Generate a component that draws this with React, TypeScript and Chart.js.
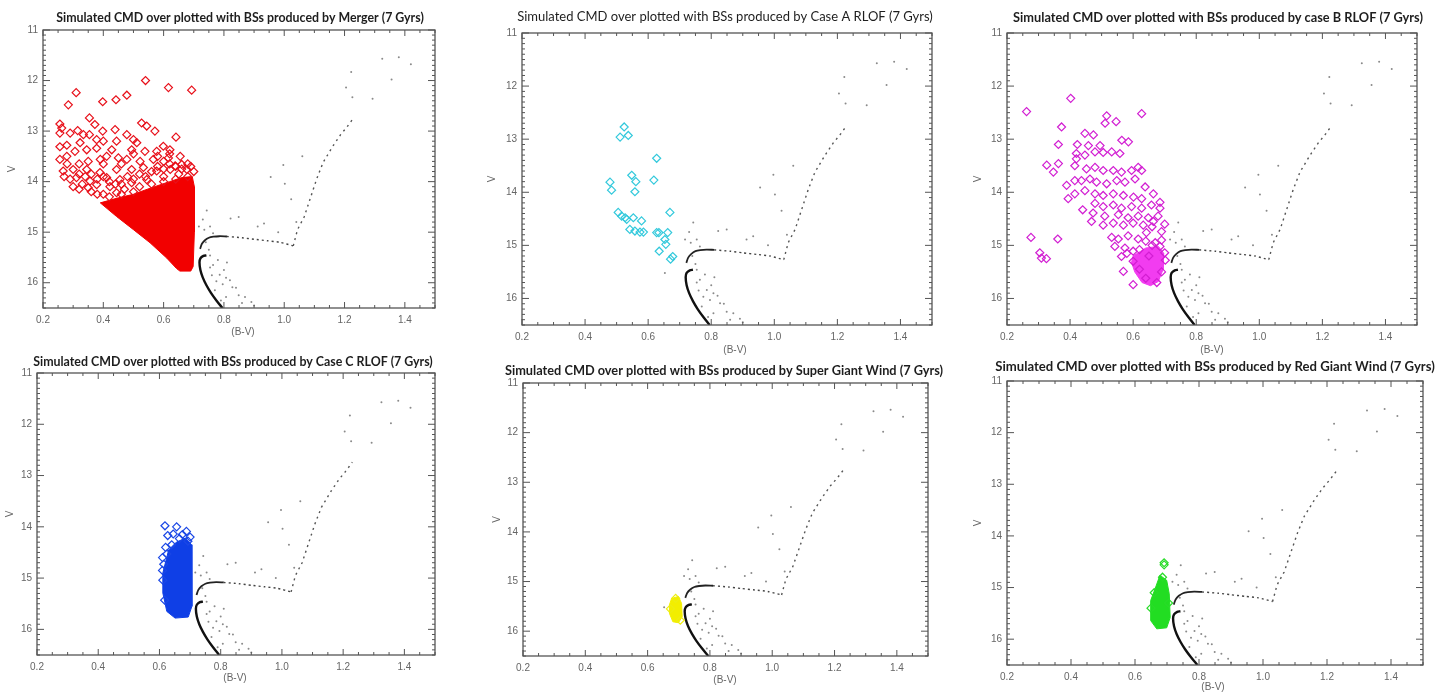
import React, { useEffect, useRef } from 'react';
import { Chart, registerables } from 'chart.js';

Chart.register(...registerables);

type P = [number, number];

// ---------- axes ----------
const X_TICKS = [0.2, 0.4, 0.6, 0.8, 1.0, 1.2, 1.4];
const Y_TICKS = [11, 12, 13, 14, 15, 16];
const X_MIN = 0.2, X_MAX = 1.5;
const Y_MIN = 11, Y_MAX = 16.5;

// ---------- simulated CMD (same in every panel) ----------
const ISO_MS: P[] = [
  [0.795, 16.5], [0.775, 16.35], [0.757, 16.2], [0.742, 16.05], [0.73, 15.9],
  [0.722, 15.75], [0.719, 15.6], [0.722, 15.52], [0.732, 15.47], [0.742, 15.46],
];
const ISO_SGB: P[] = [
  [0.721, 15.33], [0.727, 15.23], [0.737, 15.16], [0.75, 15.11], [0.765, 15.09],
  [0.785, 15.08], [0.81, 15.085],
];
const ISO_SGB_FAR: P[] = [
  [0.81, 15.085], [0.86, 15.11], [0.9, 15.14], [0.944, 15.17], [0.986, 15.2], [1.03, 15.27],
];
const ISO_RGB: P[] = [
  [1.03, 15.27], [1.044, 14.95], [1.066, 14.7], [1.087, 14.32], [1.108, 13.94],
  [1.129, 13.62], [1.161, 13.3], [1.187, 13.07], [1.208, 12.92], [1.23, 12.74],
];
const FIELD: P[] = [
  [0.743, 14.57], [0.754, 14.89], [0.764, 15.02], [0.822, 14.73], [0.849, 14.7],
  [0.912, 14.89], [0.933, 14.83], [0.997, 13.67], [1.002, 14.04], [1.023, 14.35],
  [0.955, 13.91], [1.06, 13.5], [0.754, 15.46], [0.764, 15.65], [0.786, 15.84],
  [0.807, 15.9], [0.796, 16.03], [0.828, 16.09], [0.849, 16.25], [0.87, 16.28],
  [0.891, 16.38], [0.807, 16.28], [0.754, 15.7], [0.775, 15.97], [0.717, 14.89],
  [1.325, 11.57], [1.38, 11.54], [1.42, 11.68], [1.356, 11.98], [1.293, 12.36],
  [1.222, 11.83], [1.205, 12.14], [1.226, 12.33], [0.78, 15.55], [0.8, 15.75],
  [0.82, 15.95], [0.84, 16.1], [0.76, 15.85], [0.77, 16.15], [0.79, 16.35],
  [0.86, 16.4], [0.73, 14.75], [0.74, 15.2], [0.9, 16.45], [0.98, 15.0],
  [1.04, 14.8], [0.653, 15.52], [0.735, 14.95], [0.81, 15.6], [0.75, 15.35],
];

// ---------- blue stragglers per channel ----------
const MERGER_BSS: P[] = [
  [0.54, 12.0], [0.616, 12.14], [0.693, 12.19], [0.31, 12.24], [0.478, 12.29], [0.442, 12.38],
  [0.398, 12.42], [0.284, 12.48], [0.354, 12.74], [0.372, 12.87], [0.527, 12.84], [0.544, 12.9],
  [0.256, 12.86], [0.262, 12.94], [0.398, 13.0], [0.439, 12.97], [0.478, 13.07], [0.571, 13.0],
  [0.641, 13.12], [0.315, 12.99], [0.29, 13.04], [0.256, 13.04], [0.334, 13.07], [0.354, 13.07],
  [0.5, 13.17], [0.511, 13.23], [0.444, 13.2], [0.4, 13.2], [0.378, 13.17], [0.323, 13.23],
  [0.279, 13.28], [0.256, 13.31], [0.599, 13.3], [0.621, 13.37], [0.577, 13.4], [0.538, 13.4],
  [0.494, 13.37], [0.428, 13.37], [0.378, 13.34], [0.345, 13.37], [0.306, 13.4], [0.256, 13.56],
  [0.279, 13.5], [0.35, 13.6], [0.39, 13.56], [0.411, 13.5], [0.45, 13.53], [0.478, 13.56],
  [0.522, 13.6], [0.566, 13.56], [0.616, 13.53], [0.655, 13.5], [0.638, 13.69], [0.66, 13.66],
  [0.677, 13.76], [0.622, 13.76], [0.577, 13.79], [0.533, 13.72], [0.494, 13.76], [0.444, 13.76],
  [0.389, 13.82], [0.345, 13.76], [0.3, 13.76], [0.267, 13.79], [0.311, 13.92], [0.356, 13.99],
  [0.411, 13.92], [0.455, 13.96], [0.378, 14.06], [0.422, 14.1], [0.35, 14.12], [0.4, 14.25],
  [0.444, 14.22], [0.494, 14.02], [0.544, 13.96], [0.6, 13.9], [0.65, 13.85], [0.69, 13.7],
  [0.33, 14.05], [0.47, 14.15],
  [0.27, 13.9], [0.29, 13.95], [0.32, 13.85], [0.34, 13.9], [0.36, 13.85], [0.38, 13.95],
  [0.4, 13.9], [0.42, 14.0], [0.44, 14.05], [0.46, 14.05], [0.48, 13.9], [0.5, 13.95],
  [0.52, 13.85], [0.54, 13.9], [0.56, 13.8], [0.58, 13.7], [0.6, 13.75], [0.62, 13.65],
  [0.64, 13.7], [0.66, 13.75], [0.68, 13.65], [0.7, 13.8], [0.3, 14.1], [0.32, 14.15],
  [0.36, 14.2], [0.38, 14.25], [0.42, 14.3], [0.46, 14.25], [0.5, 14.2], [0.52, 14.1],
  [0.56, 14.05], [0.6, 14.0], [0.64, 13.95], [0.68, 13.9], [0.58, 13.5], [0.6, 13.6],
  [0.62, 13.45], [0.5, 13.45], [0.46, 13.65], [0.4, 13.65], [0.32, 13.65], [0.28, 13.65],
];
const MERGER_CORE: P[] = [
  [0.39, 14.42], [0.45, 14.32], [0.5, 14.25], [0.56, 14.12], [0.62, 14.0], [0.66, 13.92],
  [0.695, 13.9], [0.702, 14.1], [0.702, 15.0], [0.698, 15.68], [0.69, 15.77], [0.654, 15.77],
  [0.643, 15.72], [0.61, 15.51], [0.555, 15.21], [0.5, 14.95], [0.444, 14.69], [0.39, 14.42],
];

const CASEA_BSS: P[] = [
  [0.524, 12.77], [0.511, 12.96], [0.537, 12.93], [0.627, 13.36], [0.548, 13.68], [0.561, 13.8],
  [0.618, 13.77], [0.479, 13.81], [0.484, 13.96], [0.558, 13.99], [0.669, 14.38], [0.505, 14.38],
  [0.516, 14.45], [0.527, 14.48], [0.532, 14.51], [0.553, 14.48], [0.579, 14.54], [0.542, 14.7],
  [0.558, 14.73], [0.574, 14.75], [0.585, 14.75], [0.627, 14.76], [0.634, 14.76], [0.662, 14.76],
  [0.653, 14.89], [0.656, 14.98], [0.635, 15.11], [0.678, 15.21], [0.671, 15.26],
];

const CASEB_BSS: P[] = [
  [0.262, 12.48], [0.402, 12.23], [0.516, 12.56], [0.627, 12.52], [0.546, 12.67], [0.511, 12.7],
  [0.373, 12.77], [0.447, 12.89], [0.474, 12.92], [0.363, 13.1], [0.423, 13.1], [0.458, 13.12],
  [0.495, 13.12], [0.564, 13.02], [0.585, 13.05], [0.42, 13.27], [0.447, 13.3], [0.479, 13.24],
  [0.505, 13.25], [0.532, 13.24], [0.558, 13.27], [0.326, 13.49], [0.363, 13.46], [0.347, 13.62],
  [0.42, 13.37], [0.415, 13.5], [0.452, 13.56], [0.479, 13.53], [0.505, 13.59], [0.537, 13.59],
  [0.563, 13.62], [0.595, 13.59], [0.616, 13.53], [0.627, 13.59], [0.389, 13.87], [0.415, 13.78],
  [0.436, 13.78], [0.463, 13.75], [0.484, 13.81], [0.516, 13.84], [0.548, 13.78], [0.574, 13.81],
  [0.606, 13.75], [0.638, 13.9], [0.394, 14.12], [0.415, 14.03], [0.447, 13.97], [0.479, 14.03],
  [0.505, 14.06], [0.537, 14.03], [0.569, 14.06], [0.601, 14.09], [0.627, 14.12], [0.664, 14.03],
  [0.685, 14.19], [0.44, 14.33], [0.479, 14.21], [0.505, 14.27], [0.537, 14.24], [0.563, 14.3],
  [0.595, 14.27], [0.627, 14.3], [0.658, 14.24], [0.685, 14.3], [0.473, 14.39], [0.51, 14.45],
  [0.553, 14.42], [0.584, 14.48], [0.616, 14.45], [0.648, 14.48], [0.679, 14.45], [0.468, 14.55],
  [0.505, 14.62], [0.537, 14.58], [0.569, 14.62], [0.6, 14.58], [0.632, 14.62], [0.664, 14.55],
  [0.69, 14.74], [0.276, 14.85], [0.361, 14.88], [0.532, 14.85], [0.553, 14.88], [0.584, 14.82],
  [0.616, 14.88], [0.642, 14.76], [0.304, 15.14], [0.309, 15.24], [0.325, 15.25], [0.542, 15.02],
  [0.574, 15.05], [0.6, 15.11], [0.569, 15.49], [0.6, 15.74], [0.563, 15.21], [0.685, 15.02],
  [0.7, 15.14], [0.64, 14.92], [0.67, 14.95], [0.69, 14.9], [0.66, 15.0], [0.702, 15.28],
  [0.62, 15.08], [0.65, 15.2], [0.69, 15.5], [0.6, 15.3], [0.62, 15.45], [0.64, 15.62],
  [0.675, 15.7], [0.58, 15.15], [0.66, 14.65], [0.7, 14.6],
];
const CASEB_CORE: P[] = [
  [0.6, 15.2], [0.64, 15.05], [0.68, 15.02], [0.697, 15.15], [0.695, 15.45], [0.68, 15.68],
  [0.655, 15.76], [0.628, 15.7], [0.605, 15.5], [0.595, 15.32], [0.6, 15.2],
];

const CASEC_BSS: P[] = [
  [0.618, 13.98], [0.656, 14.0], [0.688, 14.09], [0.627, 14.17], [0.665, 14.23], [0.645, 14.14],
  [0.624, 14.53], [0.614, 14.73], [0.611, 15.04], [0.617, 15.43], [0.693, 14.28], [0.64, 14.35],
  [0.675, 14.15], [0.62, 14.4], [0.7, 14.2], [0.61, 14.6], [0.61, 14.85],
];
const CASEC_CORE: P[] = [
  [0.63, 14.45], [0.655, 14.3], [0.685, 14.22], [0.705, 14.35], [0.706, 15.55], [0.694, 15.76],
  [0.651, 15.78], [0.624, 15.65], [0.611, 15.29], [0.611, 14.9], [0.63, 14.45],
];

const SGW_BSS: P[] = [[0.69, 15.34], [0.705, 15.78], [0.673, 15.55]];
const SGW_CORE: P[] = [
  [0.677, 15.34], [0.699, 15.3], [0.709, 15.44], [0.711, 15.71], [0.699, 15.83],
  [0.681, 15.81], [0.67, 15.64], [0.67, 15.47], [0.677, 15.34],
];

const RGW_BSS: P[] = [[0.691, 14.56], [0.686, 14.8], [0.691, 14.52], [0.66, 15.1], [0.65, 15.4], [0.705, 15.3]];
const RGW_CORE: P[] = [
  [0.678, 14.76], [0.699, 14.86], [0.707, 15.12], [0.71, 15.58], [0.699, 15.78], [0.668, 15.8],
  [0.649, 15.64], [0.649, 15.25], [0.663, 15.02], [0.678, 14.76],
];

const TITLES = [
  'Simulated CMD over plotted with BSs produced by Merger (7 Gyrs)',
  'Simulated CMD over plotted with BSs produced by Case A RLOF (7 Gyrs)',
  'Simulated CMD over plotted with BSs produced by case B RLOF (7 Gyrs)',
  'Simulated CMD over plotted with BSs produced by Case C RLOF (7 Gyrs)',
  'Simulated CMD over plotted with BSs produced by Super Giant Wind (7 Gyrs)',
  'Simulated CMD over plotted with BSs produced by Red Giant Wind (7 Gyrs)',
];

// ---------- panel layout ----------
interface Panel {
  title: string; bold: boolean; line: string; fill: string;
  bss: P[]; core: P[] | null;
  frame: [number, number, number, number];
  tt: [number, number, number]; vdx: number; bv: [number, number];
}

const PANELS: Panel[] = [
  { title: TITLES[0], bold: true, line: '#e8101a', fill: '#f20000', bss: MERGER_BSS, core: MERGER_CORE,
    frame: [43, 30, 435, 308], tt: [240, 18, 368], vdx: 31, bv: [243, 24] },
  { title: TITLES[1], bold: false, line: '#33c9dc', fill: '#33c9dc', bss: CASEA_BSS, core: null,
    frame: [522, 33, 932, 325], tt: [725, 17, 416], vdx: 30, bv: [735, 25] },
  { title: TITLES[2], bold: true, line: '#d21ed2', fill: '#f23cf0', bss: CASEB_BSS, core: CASEB_CORE,
    frame: [1007, 33, 1417, 325], tt: [1218, 18, 410], vdx: 29, bv: [1212, 25] },
  { title: TITLES[3], bold: true, line: '#1a47e6', fill: '#0f3fe6', bss: CASEC_BSS, core: CASEC_CORE,
    frame: [37, 373, 435, 655], tt: [233, 362, 400], vdx: 27, bv: [235, 23] },
  { title: TITLES[4], bold: true, line: '#eeee10', fill: '#f2ee00', bss: SGW_BSS, core: SGW_CORE,
    frame: [523, 383, 928, 656], tt: [724, 371, 438], vdx: 26, bv: [725, 24] },
  { title: TITLES[5], bold: true, line: '#28dc28', fill: '#22dd22', bss: RGW_BSS, core: RGW_CORE,
    frame: [1007, 381, 1423, 665], tt: [1215, 367, 440], vdx: 29, bv: [1213, 22] },
];

const PL = 50, PT = 40, PR = 30, PB = 45;
const xy = (a: P[]) => a.map(([x, y]) => ({ x, y }));

function CmdPanel({ p }: { p: Panel }) {
  const ref = useRef<HTMLCanvasElement>(null);
  const [l, t, r, b] = p.frame;
  const cl = l - PL, ct = t - PT, cw = r - l + PL + PR, ch = b - t + PT + PB;

  useEffect(() => {
    const datasets: any[] = [];
    datasets.push({
      type: 'scatter', data: xy(p.bss), pointStyle: 'rectRot', pointRadius: 4,
      pointBorderWidth: 1.2, pointBackgroundColor: 'rgba(0,0,0,0)', pointBorderColor: p.line,
      borderColor: p.line, backgroundColor: 'rgba(0,0,0,0)',
    });
    if (p.core) {
      datasets.push({
        type: 'line', data: xy(p.core), fill: 'shape', backgroundColor: p.fill, borderColor: p.fill,
        borderWidth: 1, pointRadius: 0, tension: 0,
      });
    }
    datasets.push({
      type: 'scatter', data: xy(FIELD), pointStyle: 'circle', pointRadius: 1,
      pointBackgroundColor: '#8a8a8a', backgroundColor: '#8a8a8a', pointBorderWidth: 0, borderWidth: 0,
    });
    datasets.push({ type: 'line', data: xy(ISO_MS), borderColor: '#111', borderWidth: 2.4, pointRadius: 0, fill: false, tension: 0.3 });
    datasets.push({ type: 'line', data: xy(ISO_SGB), borderColor: '#222', borderWidth: 1.8, pointRadius: 0, fill: false, tension: 0.3 });
    datasets.push({ type: 'line', data: xy(ISO_SGB_FAR), borderColor: '#444', borderWidth: 1.4, borderDash: [2, 3], pointRadius: 0, fill: false, tension: 0.2 });
    datasets.push({ type: 'line', data: xy(ISO_RGB), borderColor: '#555', borderWidth: 1.4, borderDash: [2, 4], pointRadius: 0, fill: false, tension: 0 });

    const tickFont = { family: '"Liberation Sans", Arial, sans-serif', size: 10 };

    const decor = {
      id: 'cmdDecor',
      afterDraw(chart: any) {
        const { ctx, chartArea: a } = chart;
        const xs = chart.scales.x, ys = chart.scales.y;
        ctx.save();
        ctx.strokeStyle = '#555';
        ctx.lineWidth = 1.3;
        ctx.strokeRect(a.left, a.top, a.right - a.left, a.bottom - a.top);
        ctx.lineWidth = 1;
        ctx.beginPath();
        for (let i = 0; i <= 26; i++) {
          const px = xs.getPixelForValue(X_MIN + i * 0.05);
          const len = i % 4 === 0 ? 6 : 3;
          ctx.moveTo(px, a.bottom); ctx.lineTo(px, a.bottom - len);
          ctx.moveTo(px, a.top); ctx.lineTo(px, a.top + len);
        }
        for (let i = 0; i <= 55; i++) {
          const py = ys.getPixelForValue(Y_MIN + i * 0.1);
          const len = i % 10 === 0 ? 7 : 3;
          ctx.moveTo(a.left, py); ctx.lineTo(a.left + len, py);
          ctx.moveTo(a.right, py); ctx.lineTo(a.right - len, py);
        }
        ctx.stroke();

        // title
        const weight = p.bold ? 'bold' : 'normal';
        ctx.font = `${weight} 100px Lato, "Open Sans", sans-serif`;
        const m = ctx.measureText(p.title).width;
        const fs = (100 * p.tt[2]) / m;
        ctx.font = `${weight} ${fs.toFixed(2)}px Lato, "Open Sans", sans-serif`;
        ctx.fillStyle = '#1e1e1e';
        ctx.textAlign = 'center';
        ctx.textBaseline = 'middle';
        ctx.fillText(p.title, p.tt[0] - cl, p.tt[1] - ct);

        // axis titles
        ctx.font = '10px "Liberation Sans", Arial, sans-serif';
        ctx.fillStyle = '#666';
        ctx.fillText('(B-V)', p.bv[0] - cl, a.bottom + p.bv[1]);
        ctx.save();
        ctx.translate(a.left - p.vdx, (a.top + a.bottom) / 2);
        ctx.rotate(-Math.PI / 2);
        ctx.fillText('V', 0, 0);
        ctx.restore();
        ctx.restore();
      },
    };

    const chart = new Chart(ref.current as HTMLCanvasElement, {
      type: 'scatter',
      data: { datasets },
      options: {
        responsive: false,
        animation: false,
        devicePixelRatio: 1,
        events: [],
        layout: { padding: { top: PT, right: PR, left: 0, bottom: 0 } },
        plugins: { legend: { display: false }, tooltip: { enabled: false }, title: { display: false } },
        scales: {
          x: {
            type: 'linear', min: X_MIN, max: X_MAX,
            grid: { display: false, drawTicks: false }, border: { display: false },
            ticks: { autoSkip: false, maxRotation: 0, padding: 6, color: '#666', font: tickFont,
              callback: (v: any) => Number(v).toFixed(1) },
            afterBuildTicks: (s: any) => { s.ticks = X_TICKS.map((v) => ({ value: v })); },
            afterFit: (s: any) => { s.height = PB; },
          },
          y: {
            type: 'linear', reverse: true, min: Y_MIN, max: Y_MAX,
            grid: { display: false, drawTicks: false }, border: { display: false },
            ticks: { autoSkip: false, padding: 5, color: '#666', font: tickFont,
              callback: (v: any) => String(v) },
            afterBuildTicks: (s: any) => { s.ticks = Y_TICKS.map((v) => ({ value: v })); },
            afterFit: (s: any) => { s.width = PL; },
          },
        },
      } as any,
      plugins: [decor],
    });
    return () => chart.destroy();
  }, []);

  return (
    <canvas
      ref={ref}
      width={cw}
      height={ch}
      style={{ position: 'absolute', left: cl, top: ct, width: cw, height: ch }}
    />
  );
}

export default function App() {
  return (
    <div style={{ position: 'absolute', left: 0, top: 0, width: 1451, height: 694, background: '#fff', overflow: 'hidden' }}>
      {PANELS.map((p, i) => (
        <CmdPanel key={i} p={p} />
      ))}
    </div>
  );
}
